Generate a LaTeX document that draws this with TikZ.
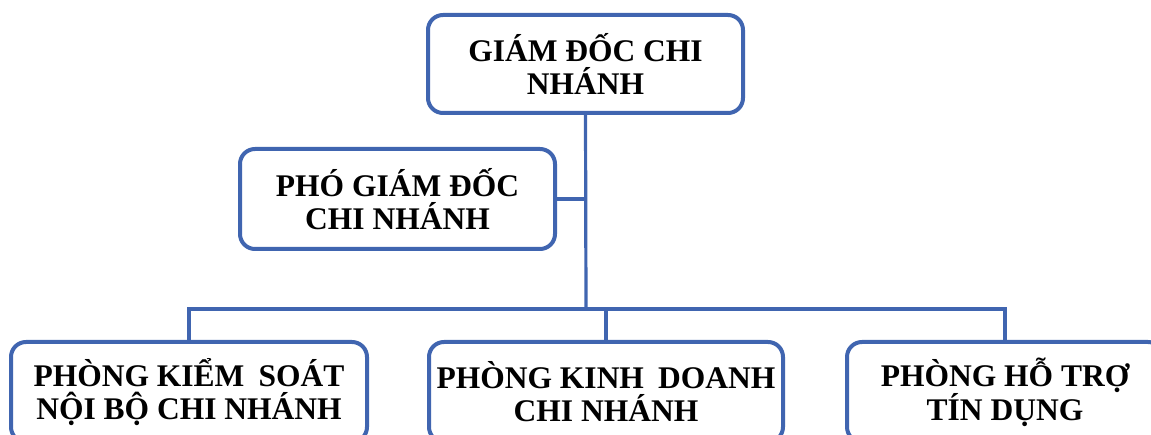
\documentclass[tikz,border=0pt]{standalone}
\usepackage{fontspec}
\setmainfont{Liberation Serif}
\definecolor{boxblue}{RGB}{64,101,176}
\begin{document}
\begin{tikzpicture}[x=1pt,y=1pt,
  orgbox/.style={draw=boxblue, line width=4pt, rounded corners=15pt, fill=white,
    align=center, inner sep=0pt,
    font=\bfseries\fontsize{31.5}{33}\selectfont},
  link/.style={draw=boxblue, line width=3.2pt}]
\useasboundingbox (0,0) rectangle (1151,-435);
\clip (0,0) rectangle (1151,-435);
\coordinate (bus) at (586,-309);
\node[orgbox, minimum width=315pt, minimum height=98pt] (gd) at (585.5,-64) {GIÁM ĐỐC CHI\\NHÁNH};
\node[orgbox, minimum width=315pt, minimum height=100pt] (pgd) at (397.5,-199) {PHÓ GIÁM ĐỐC\\CHI NHÁNH};
\node[orgbox, minimum width=356pt, minimum height=100pt] (ks) at (189,-392) {PHÒNG KIỂM\hspace{0.45em}SOÁT\\NỘI BỘ CHI NHÁNH};
\node[orgbox, minimum width=354pt, minimum height=100pt] (kd) at (606,-392) {PHÒNG KINH\hspace{0.45em}DOANH\\CHI NHÁNH};
\node[orgbox, minimum width=316pt, minimum height=100pt] (ht) at (1005,-392) {PHÒNG HỖ TRỢ\\TÍN DỤNG};
\path[link] (gd.south) -- (bus);
\path[link] (pgd.east) -- (gd.south |- pgd.east);
\path[link] (ks.north) |- (bus) -| (ht.north);
\path[link] (kd.north) -- (kd.north |- bus);
\end{tikzpicture}
\end{document}
